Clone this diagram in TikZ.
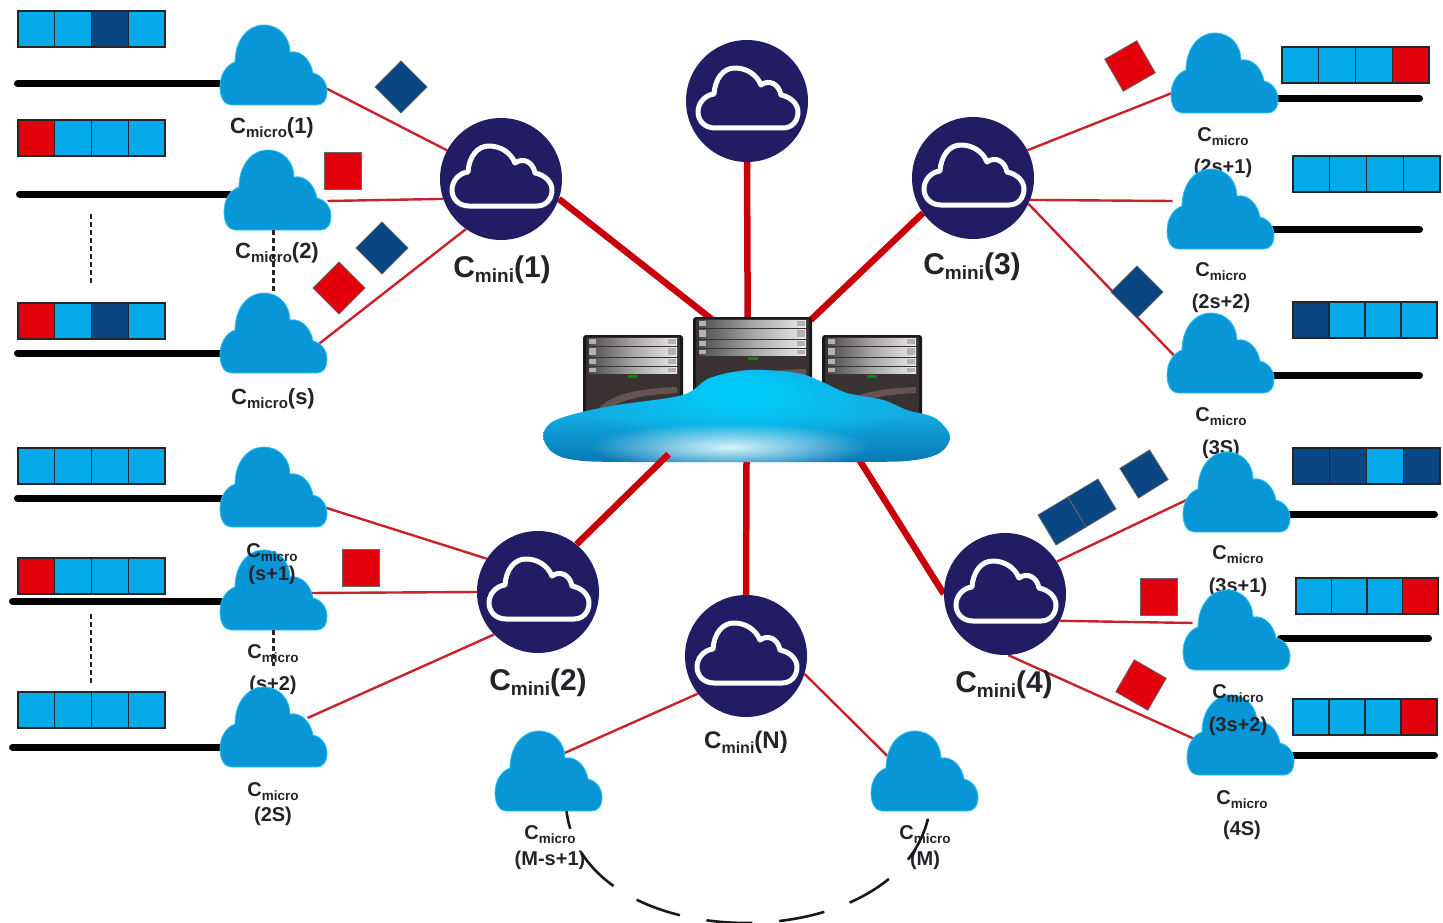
\documentclass[tikz,border=0pt]{standalone}
\usepackage{fontspec}
\setmainfont{Liberation Sans}
\usetikzlibrary{calc,fadings}
\pgfdeclarelayer{links}
\pgfsetlayers{links,main}
\definecolor{navyhub}{RGB}{34,28,100}
\definecolor{cloudblue}{RGB}{8,150,215}
\definecolor{cloudedge}{RGB}{50,195,240}
\definecolor{cellblue}{RGB}{5,170,235}
\definecolor{celldark}{RGB}{10,70,130}
\definecolor{cellred}{RGB}{225,0,12}
\definecolor{linkred}{RGB}{200,0,10}
\definecolor{thinred}{RGB}{200,35,45}
\definecolor{labelgray}{RGB}{35,35,42}
\definecolor{coretop}{RGB}{20,170,225}
\definecolor{corelow}{RGB}{5,120,180}
\definecolor{coreglow}{RGB}{0,205,250}
\definecolor{corewhite}{RGB}{215,245,252}
\definecolor{srvbody}{RGB}{58,50,50}
\definecolor{srvswoosh}{RGB}{100,84,82}
\tikzfading[name=softglow,inner color=transparent!0,outer color=transparent!100]
\tikzset{
  x=1pt,y=-1pt,
  hubdisc/.style={circle,fill=navyhub,minimum size=122pt,inner sep=0pt},
  cloudbox/.style={rectangle,minimum width=107pt,minimum height=80pt,inner sep=0pt},
  cell/.style={rectangle,draw=black!85,line width=1.3pt,inner sep=0pt,outer sep=0pt,minimum height=36pt},
  pkt/.style={rectangle,draw=black!60,line width=.8pt,inner sep=0pt,outer sep=0pt,minimum size=37pt},
  pktred/.style={pkt,fill=cellred},
  pktblue/.style={pkt,fill=celldark},
  thicklink/.style={draw=linkred,line width=6.5pt},
  thinlink/.style={draw=thinred,line width=2.4pt},
  wire/.style={draw=black,line width=7pt,line cap=round},
  dotted line/.style={draw=black!85,line width=2.4pt,dash pattern=on 5pt off 3pt},
  ring/.style={draw=black!90,line width=2.6pt,dash pattern=on 46pt off 27pt,dash phase=28pt},
  microtext/.style={inner sep=0pt,text=labelgray,font=\bfseries\fontsize{20}{20}\selectfont},
  microbig/.style={inner sep=0pt,text=labelgray,font=\bfseries\fontsize{22}{22}\selectfont},
  minitext/.style={inner sep=0pt,text=labelgray,font=\bfseries\fontsize{30}{30}\selectfont},
}
\newcommand{\CMicro}{C{\fontsize{13.5}{13.5}\selectfont\raisebox{-4pt}{micro}}}
\newcommand{\CMicroBig}{C{\fontsize{15}{15}\selectfont\raisebox{-4pt}{micro}}}
\newcommand{\CMini}[1]{C{\fontsize{#1}{#1}\selectfont\raisebox{-5pt}{mini}}}
\newcommand{\microcloud}[3]{%
  \node[cloudbox] (#1) at (#2+53.5,#3+40) {};
  \begin{scope}[shift={(#2,#3)}]
    \fill[cloudblue,draw=cloudedge,line width=.8pt]
      (11,80) .. controls (4,80) and (0,72) .. (0,62)
      .. controls (0,50) and (6,40) .. (15,37)
      .. controls (15,16) and (27,0) .. (44,0)
      .. controls (60,0) and (70,13) .. (70,27)
      .. controls (82,25) and (91,36) .. (93,48)
      .. controls (102,50) and (107,58) .. (107,66)
      .. controls (107,75) and (103,80) .. (97,80) -- cycle;
  \end{scope}}
\newcommand{\hub}[3]{%
  \node[hubdisc] (#1) at (#2,#3) {};
  \begin{scope}[shift={(#2,#3)}]
    \draw[white,line width=5pt,fill=navyhub,line join=round]
      (-32,27) .. controls (-43,27) and (-49,19) .. (-49,11)
      .. controls (-49,2) and (-42,-6) .. (-33,-7)
      .. controls (-32,-22) and (-24,-33) .. (-12,-33)
      .. controls (0,-33) and (10,-26) .. (14,-16)
      .. controls (22,-22) and (32,-17) .. (34,-6)
      .. controls (44,-4) and (51,3) .. (51,11)
      .. controls (51,20) and (45,27) .. (36,27) -- cycle;
  \end{scope}}
% queue: name, left x, top y, cell width, four colours
\newcommand{\queue}[7]{%
  \node[cell,minimum width=#4 pt,fill=#5,anchor=north west] (#1-1) at (#2,#3) {};
  \node[cell,minimum width=#4 pt,fill=#6,anchor=north west] (#1-2) at (#1-1.north east) {};
  \node[cell,minimum width=#4 pt,fill=#7,anchor=north west] (#1-3) at (#1-2.north east) {};
  \queuelast{#1}{#4}}
\newcommand{\queuelast}[3]{%
  \node[cell,minimum width=#2 pt,fill=#3,anchor=north west] (#1-4) at (#1-3.north east) {};}
\newcommand{\microlabel}[6][]{%
  \node[microtext] (#2-a) at (#3,#4) {\CMicro};
  \node[microtext] (#2-b) at (#3,#5) {#6};}
% server: name, x, y, w, h
\newcommand{\server}[5]{%
  \node[rectangle,minimum width=#4 pt,minimum height=#5 pt,inner sep=0pt,anchor=north west] (#1) at (#2,#3) {};
  \begin{scope}[shift={(#2,#3)}]
    \fill[black!90,rounded corners=3pt] (0,0) rectangle (#4,#5);
    \fill[srvbody,rounded corners=1pt] (3,2) rectangle (#4-3,#5);
    \fill[srvswoosh] (8,#5) .. controls (18,60) and (50,54) .. (#4-6,52) -- (#4-6,58) .. controls (50,60) and (25,68) .. (16,#5) -- cycle;
    \foreach \by/\bh in {3/7,12/9,23/7,32/6}{
      \shade[left color=black!70,right color=white!92!black,middle color=black!35]
        (6,\by) rectangle (#4-6,\by+\bh);
      \fill[white!70!black] (6,\by+1) rectangle (13,\by+\bh-1);
      \fill[white!70!black] (#4-15,\by+1) rectangle (#4-7,\by+\bh-1);
    }
    \fill[green!55!black] (#4/2-5,40) rectangle (#4/2+5,43);
  \end{scope}}
\begin{document}
\begin{tikzpicture}
\useasboundingbox (0,0) rectangle (1443,923);
\begin{pgfonlayer}{links}
  \fill[white] (0,0) rectangle (1443,923);
\end{pgfonlayer}

% central servers and cloud
\server{srvL}{583}{335}{100}{85}
\server{srvR}{822}{335}{100}{85}
\server{srvC}{693}{317}{119}{85}
\node[rectangle,minimum width=407pt,minimum height=92pt,inner sep=0pt] (core) at (746.5,416) {};
\shade[top color=coretop,bottom color=corelow,middle color=coretop]
  plot[smooth cycle,tension=.55] coordinates {(543,436) (552,422) (578,413) (617,405) (683,395) (710,378) (750,370) (797,373) (820,381) (847,393) (883,400) (907,410) (935,418) (950,436) (941,452) (915,460) (860,462) (630,462) (575,460) (552,452)};
\begin{scope}
  \clip plot[smooth cycle,tension=.55] coordinates {(543,436) (552,422) (578,413) (617,405) (683,395) (710,378) (750,370) (797,373) (820,381) (847,393) (883,400) (907,410) (935,418) (950,436) (941,452) (915,460) (860,462) (630,462) (575,460) (552,452)};
  \fill[coreglow,path fading=softglow] (745,400) ellipse (170 and 50);
  \fill[corewhite,path fading=softglow] (730,447) ellipse (140 and 24);
  \fill[coreglow,path fading=softglow] (737,385) ellipse (75 and 20);
\end{scope}

% hubs
\hub{top}{747}{101}
\hub{mini1}{501}{179}
\hub{mini3}{973}{178}
\hub{mini2}{538}{592}
\hub{mini4}{1005}{594}
\hub{miniN}{746}{656}

% labels that lie under the clouds
\node[microbig] (lb1) at (272,128) {\CMicroBig(1)};
\node[microbig] (lb2) at (277,253) {\CMicroBig(2)};
\node[microbig] (lb3) at (273,399) {\CMicroBig(s)};
\microlabel{lb4}{1223}{137}{168}{(2s+1)}
\microlabel{lb5}{1221}{272}{303}{(2s+2)}
\microlabel{lb6}{1221}{417}{449}{(3S)}
\microlabel{lb7}{1238}{555}{587}{(3s+1)}
\microlabel{lb8}{273}{654}{685}{(s+2)}
\microlabel{lb9}{273}{792}{816}{(2S)}
\microlabel{lb10}{1242}{800}{830}{(4S)}
\microlabel{lb11}{550}{835}{860}{(M-s+1)}
\microlabel{lb12}{925}{835}{860}{(M)}
\node[minitext] (lm1) at (502,270) {\CMini{19}(1)};
\node[minitext] (lm3) at (972,267) {\CMini{19}(3)};
\node[minitext] (lm2) at (538,683) {\CMini{19}(2)};
\node[minitext] (lm4) at (1004,685) {\CMini{19}(4)};
\node[minitext,font=\bfseries\fontsize{24}{24}\selectfont] (lmN) at (746,742) {\CMini{16}(N)};

% micro clouds
\microcloud{c1}{220}{25}
\microcloud{c2}{224}{150}
\microcloud{c3}{220}{293}
\microcloud{c4}{220}{447}
\microcloud{c5}{220}{550}
\microcloud{c6}{220}{687}
\microcloud{c7}{1171}{33}
\microcloud{c8}{1167}{169}
\microcloud{c9}{1167}{313}
\microcloud{c10}{1183}{452}
\microcloud{c11}{1183}{590}
\microcloud{c12}{1187}{695}
\microcloud{c13}{495}{731}
\microcloud{c14}{871}{731}

% labels that lie over the clouds
\microlabel{lb13}{272}{553}{575}{(s+1)}
\microlabel{lb14}{1238}{694}{726}{(3s+2)}

% connectors behind everything
\begin{pgfonlayer}{links}
  \draw[thicklink] (top.south) -- ($(srvC.north)+(-5,2)$);
  \draw[thicklink] (mini1.341) -- ($(srvC.north)+(-40,3)$);
  \draw[thicklink] (mini3.215) -- ($(srvC.north)+(58,3)$);
  \draw[thicklink] (miniN.north) -- (core.south);
  \draw[thicklink] (mini4.180) -- ($(core.south)+(113,-2)$);
  \draw[thinlink] (mini1.152) -- ($(c1)+(52,23)$);
  \draw[thinlink] (mini1.199) -- ($(c2)+(50,11)$);
  \draw[thinlink] (mini1.235) -- ($(c3)+(44,12)$);
  \draw[thinlink] (mini3.27) -- ($(c7)+(-50,19)$);
  \draw[thinlink] (mini3.339) -- ($(c8)+(-48,-8)$);
  \draw[thinlink] (mini3.335) -- ($(c9)+(-46,3)$);
  \draw[thinlink] (mini2.147) -- ($(c4)+(50,20)$);
  \draw[thinlink] (mini2.180) -- ($(c5)+(36,3)$);
  \draw[thinlink] (mini2.224) -- ($(c6)+(34,-9)$);
  \draw[thinlink] (mini4.32) -- ($(c10)+(-48,7)$);
  \draw[thinlink] (mini4.334) -- ($(c11)+(-44,-7)$);
  \draw[thinlink] (mini4.273) -- ($(c12)+(-46,4)$);
  \draw[thinlink] (miniN.218) -- ($(c13)+(16,-18)$);
  \draw[thinlink] (miniN.343) -- ($(c14)+(-32,-10)$);
  \draw[wire] ($(c1)+(-50,19)$) -- ++(-206,0) coordinate (w1);
  \draw[wire] ($(c2)+(-48,4)$) -- ++(-210,0) coordinate (w2);
  \draw[wire] ($(c3)+(-50,20)$) -- ++(-206,0) coordinate (w3);
  \draw[wire] ($(c4)+(-50,11)$) -- ++(-206,0) coordinate (w4);
  \draw[wire] ($(c5)+(-50,11)$) -- ++(-211,0) coordinate (w5);
  \draw[wire] ($(c6)+(-50,20)$) -- ++(-211,0) coordinate (w6);
  \draw[wire] ($(c7)+(50,25.5)$) -- ++(145,0) coordinate (w7);
  \draw[wire] ($(c8)+(50,20.5)$) -- ++(149,0) coordinate (w8);
  \draw[wire] ($(c9)+(50,22.5)$) -- ++(149,0) coordinate (w9);
  \draw[wire] ($(c10)+(50,22)$) -- ++(148,0) coordinate (w10);
  \draw[wire] ($(c11)+(44,8)$) -- ++(148,0) coordinate (w11);
  \draw[wire] ($(c12)+(50,20)$) -- ++(144,0) coordinate (w12);
\end{pgfonlayer}
\draw[thicklink] (mini2.51) -- ($(core.south)+(-78,-8)$);

% dashed continuation marks
\coordinate (dA1) at (91,214);
\coordinate (dA2) at (91,283);
\coordinate (dB1) at (91,614);
\coordinate (dB2) at (91,683);
\draw[dotted line] (dA1) -- (dA2);
\draw[dotted line] (dB1) -- (dB2);
\draw[dotted line] (c2.south -| c3.north) -- (c3.north);
\draw[dotted line] (c5.south) -- ++(0,36) coordinate (dC2);

% dashed ring between the last clouds
\draw[ring] (c13.south)+(18,0) .. controls ($(c13.south)+(37,149)$) and ($(c14.south)+(-20,149)$) .. ($(c14.south)+(5,0)$);

% queues
\queue{q1}{18}{11}{36.75}{cellblue}{cellblue}{celldark}{cellblue}
\queue{q2}{18}{120}{36.75}{cellred}{cellblue}{cellblue}{cellblue}
\queue{q3}{18}{303}{36.75}{cellred}{cellblue}{celldark}{cellblue}
\queue{q4}{18}{448}{36.75}{cellblue}{cellblue}{cellblue}{cellblue}
\queue{q5}{18}{558}{36.75}{cellred}{cellblue}{cellblue}{cellblue}
\queue{q6}{18}{692}{36.75}{cellblue}{cellblue}{cellblue}{cellblue}
\queue{q7}{1282}{47}{36.75}{cellblue}{cellblue}{cellblue}{cellred}
\queue{q8}{1293}{156}{36.75}{cellblue}{cellblue}{cellblue}{cellblue}
\queue{q9}{1293}{302}{36}{celldark}{cellblue}{cellblue}{cellblue}
\queue{q10}{1293}{448}{36.75}{celldark}{celldark}{cellblue}{celldark}
\queue{q11}{1296}{578}{35.5}{cellblue}{cellblue}{cellblue}{cellred}
\queue{q12}{1293}{699}{36}{cellblue}{cellblue}{cellblue}{cellred}

% packets
\node[pktblue,rotate=45] (p1) at (401,87) {};
\node[pktred] (p2) at (343,171) {};
\node[pktblue,rotate=45] (p3) at (382,248) {};
\node[pktred,rotate=45] (p4) at (339,288) {};
\node[pktred,rotate=30] (p5) at (1130,66) {};
\node[pktblue,rotate=45] (p6) at (1137,292) {};
\node[pktblue,rotate=32,minimum size=35pt] (p7) at (1144,474) {};
\node[pktblue,rotate=31,minimum size=35pt] (p8a) at (1062,521) {};
\node[pktblue,rotate=31,minimum size=35pt] (p8b) at (1092,503) {};
\node[pktred] (p9) at (361,568) {};
\node[pktred] (p10) at (1159,597) {};
\node[pktred,rotate=-30] (p11) at (1141,685) {};
\end{tikzpicture}
\end{document}
